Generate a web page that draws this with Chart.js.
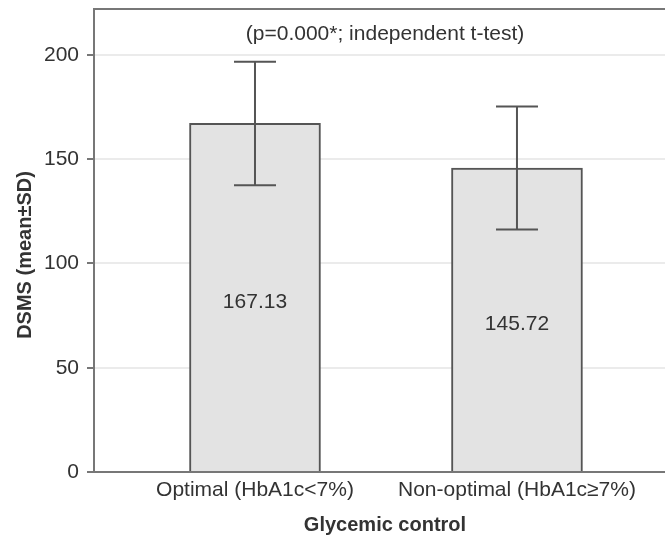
<!DOCTYPE html>
<html>
<head>
<meta charset="utf-8">
<script src="https://cdn.jsdelivr.net/npm/chart.js@4.4.1/dist/chart.umd.min.js"></script>
<style>
  html, body { margin: 0; padding: 0; overflow: hidden; background: #fff; }
  #wrap { width: 680px; height: 537px; }
</style>
</head>
<body>
<div id="wrap"><canvas id="chart"></canvas></div>
<script>
const categories = ["Optimal (HbA1c<7%)", "Non-optimal (HbA1c\u22657%)"];
const positions = [1, 2];
const means = [167.13, 145.72];
const sds = [29.6, 29.5];
const yTicks = [0, 50, 100, 150, 200];
const pNote = "(p=0.000*; independent t-test)";
const yTitle = "DSMS (mean\u00b1SD)";
const xTitle = "Glycemic control";

const FONT = "'Liberation Sans', Arial, sans-serif";
const TEXT = "#333";

// error bars, value labels, frame and note
const extras = {
  id: "extras",
  afterDatasetsDraw(chart) {
    const { ctx, chartArea, scales } = chart;
    const x = scales.x, y = scales.y;
    ctx.save();

    // top and right frame
    ctx.strokeStyle = "#777";
    ctx.lineWidth = 2;
    ctx.beginPath();
    ctx.moveTo(chartArea.left, chartArea.top);
    ctx.lineTo(chartArea.right, chartArea.top);
    ctx.lineTo(chartArea.right, chartArea.bottom);
    ctx.stroke();

    // error bars
    ctx.strokeStyle = "#555";
    ctx.lineWidth = 2;
    positions.forEach((p, i) => {
      const px = x.getPixelForValue(p);
      const hi = y.getPixelForValue(means[i] + sds[i]);
      const lo = y.getPixelForValue(means[i] - sds[i]);
      ctx.beginPath();
      ctx.moveTo(px, hi); ctx.lineTo(px, lo);
      ctx.moveTo(px - 21, hi); ctx.lineTo(px + 21, hi);
      ctx.moveTo(px - 21, lo); ctx.lineTo(px + 21, lo);
      ctx.stroke();
    });

    // value labels
    ctx.fillStyle = TEXT;
    ctx.font = "21px " + FONT;
    ctx.textAlign = "center";
    ctx.textBaseline = "middle";
    positions.forEach((p, i) => {
      ctx.fillText(means[i].toFixed(2), x.getPixelForValue(p), y.getPixelForValue(means[i] / 2) + 4);
    });

    // p-value note
    ctx.fillText(pNote, (chartArea.left + chartArea.right) / 2, chartArea.top + 25);

    // y axis title
    ctx.font = "bold 20px " + FONT;
    ctx.translate(25, 255);
    ctx.rotate(-Math.PI / 2);
    ctx.fillText(yTitle, 0, 0);
    ctx.restore();
  }
};

new Chart(document.getElementById("chart"), {
  type: "bar",
  data: {
    datasets: [{
      data: positions.map((p, i) => ({ x: p, y: means[i] })),
      backgroundColor: "#e3e3e3",
      borderColor: "#555",
      borderWidth: 2,
      barThickness: 131
    }]
  },
  options: {
    responsive: true,
    maintainAspectRatio: false,
    animation: false,
    layout: { padding: { left: 0, top: 9, right: 4, bottom: 0 } },
    plugins: {
      legend: { display: false },
      tooltip: { enabled: false }
    },
    scales: {
      x: {
        type: "linear",
        offset: false,
        min: 0.3855,
        max: 2.607,
        afterBuildTicks: s => { s.ticks = positions.map(v => ({ value: v })); },
        afterFit: s => { s.height = 65; s.paddingLeft = 0; s.paddingRight = 0; },
        grid: { display: false, drawTicks: false, offset: false },
        border: { display: true, color: "#777", width: 2 },
        ticks: {
          autoSkip: false,
          maxRotation: 0,
          padding: 6,
          color: TEXT,
          font: { family: FONT, size: 21 },
          callback: v => categories[positions.indexOf(v)] ?? ""
        },
        title: {
          display: true,
          text: xTitle,
          color: TEXT,
          font: { family: FONT, size: 20, weight: "bold" },
          padding: { top: 0, bottom: 0 }
        }
      },
      y: {
        min: 0,
        max: 222,
        afterBuildTicks: s => { s.ticks = yTicks.map(v => ({ value: v })); },
        afterFit: s => { s.width = 94; s.paddingTop = 0; s.paddingBottom = 0; },
        grid: { color: "#ebebeb", lineWidth: 2, tickColor: "#777", tickLength: 7 },
        border: { display: true, color: "#777", width: 2 },
        ticks: {
          padding: 8,
          color: TEXT,
          font: { family: FONT, size: 21 }
        }
      }
    }
  },
  plugins: [extras]
});
</script>
</body>
</html>
